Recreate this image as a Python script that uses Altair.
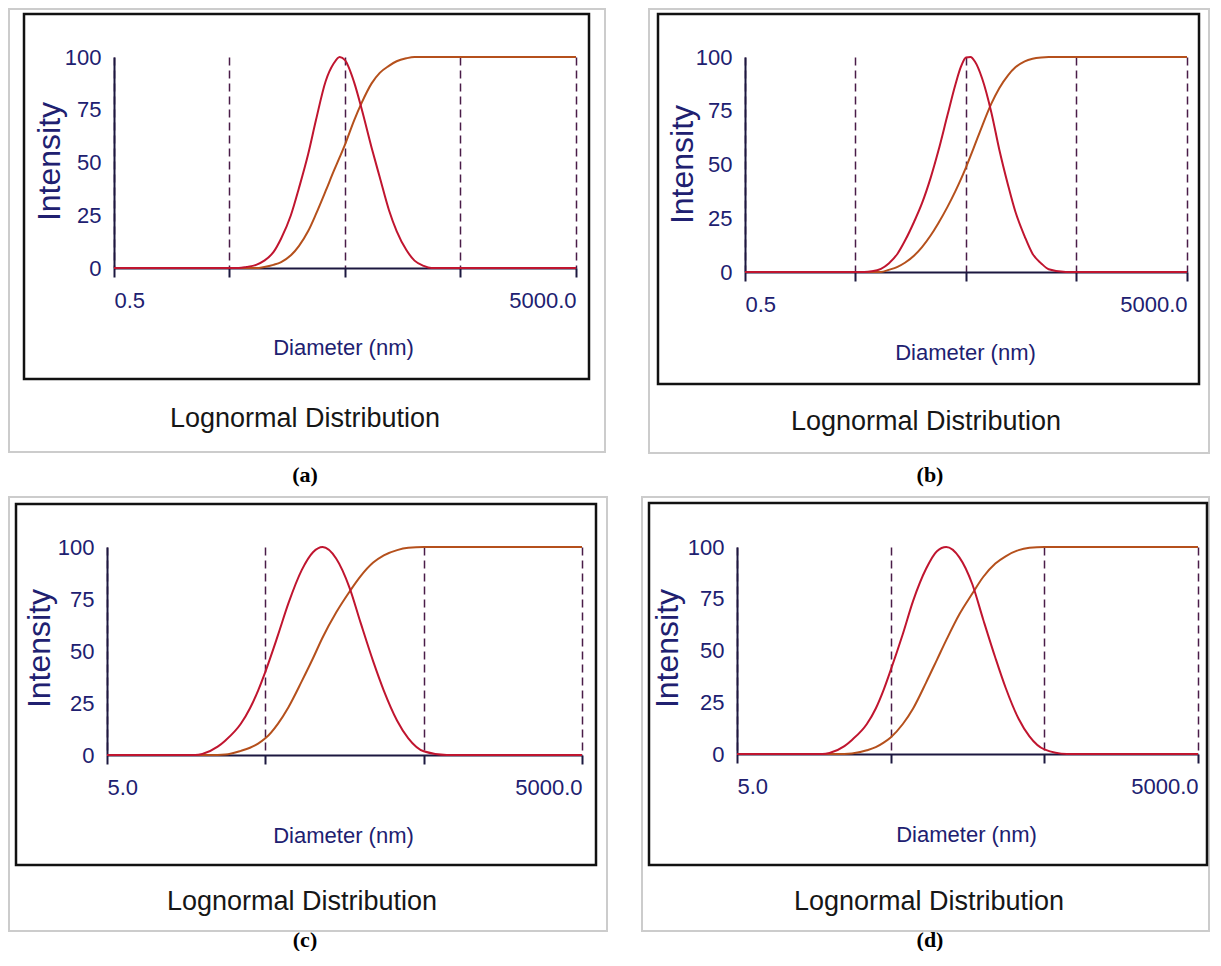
import altair as alt
import pandas as pd

# ---------------- data ----------------
A_diam = [0.5, 5, 6, 7, 8.5, 10, 12, 14, 17, 20, 24, 28, 34, 40, 45, 50, 60, 70, 85, 100,
          120, 140, 170, 200, 240, 280, 400, 5000]
A_dist = [0, 0, 0, 0.5, 1.5, 3.5, 7.5, 14, 25, 38, 54, 70, 88.5, 97, 100, 98.5, 88, 75, 57, 43,
          27.5, 17.5, 8.5, 3.5, 1, 0, 0, 0]
A_cum = [0, 0, 0, 0, 0, 0.5, 1.5, 2.8, 6, 10.5, 17.5, 25.5, 36.5, 46, 52.5, 58.5, 70, 78.5, 87.5, 92.5,
         95.8, 98, 99.4, 100, 100, 100, 100, 100]

B_diam = [0.5, 5, 6, 7, 8.5, 10, 12, 14, 17, 20, 24, 28, 34, 40, 45, 50, 55, 60, 70, 85, 100,
          120, 140, 170, 200, 240, 280, 400, 5000]
B_dist = [0, 0, 0, 0.3, 1.5, 4, 8.5, 14.5, 23.5, 32, 44, 56, 73, 87, 95.5, 99.8, 100, 98, 90, 74, 57,
          40.5, 28, 16.5, 8.5, 4, 1.3, 0, 0]
B_cum = [0, 0, 0, 0, 0, 1, 2.4, 4.3, 7.7, 11.6, 17.1, 22.6, 30.3, 37.5, 43.2, 48.7, 54, 59, 67.9, 78.4, 85.5,
         91.5, 95.2, 98, 99.2, 99.8, 100, 100, 100]

C_diam = [5, 14, 18, 20, 25, 28, 35, 40, 45, 50, 60, 70, 85, 100, 115, 140, 170, 200, 240, 280,
          340, 400, 500, 700, 5000]
C_dist = [0, 0, 0, 0.5, 4, 7, 15, 22.5, 31, 40, 57.5, 73, 89, 97.5, 100, 94.5, 80.5, 63.5, 45, 31,
          16.5, 8, 1.8, 0, 0]
C_cum = [0, 0, 0, 0, 0, 0.2, 2, 3.5, 5.5, 8, 15, 23, 35.5, 46.5, 56.5, 68.5, 78.5, 86, 92.5, 96,
         98.5, 99.6, 100, 100, 100]

D_diam = [5, 14, 18, 20, 25, 28, 35, 40, 45, 50, 60, 70, 85, 100, 115, 140, 170, 200, 240, 280,
          340, 400, 500, 700, 5000]
D_dist = [0, 0, 0, 0.5, 3.8, 6.8, 14.5, 22, 31, 40.5, 58, 74, 89.5, 98, 100, 95, 82, 65, 46.5, 32,
          17, 8.5, 2.2, 0, 0]
D_cum = [0, 0, 0, 0, 0, 0.2, 1.8, 3.3, 5.5, 8, 14.5, 22, 34.5, 45.5, 55, 67.5, 77.5, 85.5, 92, 95.5,
         98.5, 99.6, 100, 100, 100]

AB_ticks = [0.5, 5, 50, 500, 5000]
CD_ticks = [5, 50, 500, 5000]
Y_ticks = [0, 25, 50, 75, 100]

X_TITLE = "Diameter (nm)"
Y_TITLE = "Intensity"
SUBTITLE = "Lognormal Distribution"
LETTERS = ["(a)", "(b)", "(c)", "(d)"]

# ---------------- styles ----------------
LABEL = "#202070"
AXIS = "#1c1840"
BELL = "#c0152f"
CUM = "#b5501c"
GRID = "#4a1c48"
SANS = "Liberation Sans"


def panel(diam, dist, cum, ticks, w, h, lay, letter, shift=0):
    lines = pd.DataFrame({"d": diam, "dist": dist, "cum": cum})
    one = pd.DataFrame({"k": [0]})

    xscale = alt.Scale(type="log", domain=[ticks[0], ticks[-1]], nice=False)
    if shift:
        xscale = alt.Scale(type="log", domain=[ticks[0], ticks[-1]], nice=False,
                           range=[-shift, w - shift])

    x = alt.X(
        "d:Q",
        scale=xscale,
        axis=alt.Axis(
            values=ticks,
            labelExpr="datum.index == 0 || datum.index == 1 ? format(datum.value, '.1f') : ''",
            labelFlush=True,
            labelFont=SANS, labelFontSize=22, labelColor=LABEL, labelPadding=13,
            grid=True, gridDash=[8, 5], gridColor=GRID, gridWidth=1.5, gridOpacity=1,
            tickSize=9, tickWidth=2, tickColor=AXIS,
            domainColor=AXIS, domainWidth=2,
            title=X_TITLE, titleX=lay["xt"][0], titleY=lay["xt"][1],
            titleAlign="center", titleBaseline="middle",
            titleFont=SANS, titleFontSize=22, titleFontWeight="normal", titleColor=LABEL,
        ),
    )

    def y(field):
        return alt.Y(
            f"{field}:Q",
            scale=alt.Scale(domain=[0, 100], nice=False),
            axis=alt.Axis(
                values=Y_ticks, ticks=False, tickSize=0, grid=False, offset=shift,
                domainColor=AXIS, domainWidth=2,
                labelFont=SANS, labelFontSize=22, labelColor=LABEL, labelPadding=13,
                title=Y_TITLE, titleX=lay["yt"][0], titleY=lay["yt"][1], titleAngle=270,
                titleAlign="center", titleBaseline="middle",
                titleFont=SANS, titleFontSize=32, titleFontWeight="normal", titleColor=LABEL,
            ),
        )

    def box(mark, b):
        return alt.Chart(one).mark_rect(**mark).encode(
            x=alt.value(b[0]), x2=alt.value(b[2]), y=alt.value(b[1]), y2=alt.value(b[3])
        )

    layout_box = box({"opacity": 0}, lay["box"])
    outer = box({"filled": False, "color": "#cccccc", "strokeWidth": 2}, lay["outer"])
    inner = box({"filled": False, "color": "#111111", "strokeWidth": 2.5}, lay["inner"])

    base = alt.Chart(lines)
    cum_line = base.mark_line(interpolate="monotone", color=CUM, strokeWidth=2).encode(x=x, y=y("cum"))
    dist_line = base.mark_line(interpolate="monotone", color=BELL, strokeWidth=2).encode(x=x, y=y("dist"))

    sub = alt.Chart(one).mark_text(
        font=SANS, fontSize=27, color="#161616", align="center", baseline="alphabetic"
    ).encode(x=alt.value(lay["lg"][0]), y=alt.value(lay["lg"][1]), text=alt.value(SUBTITLE))

    let = alt.Chart(one).mark_text(
        font="Liberation Serif", fontSize=22, fontWeight="bold", color="#000000",
        align="center", baseline="alphabetic"
    ).encode(x=alt.value(lay["let"][0]), y=alt.value(lay["let"][1]), text=alt.value(letter))

    return alt.layer(layout_box, outer, inner, cum_line, dist_line, sub, let).properties(
        width=w - shift, height=h
    )


LAY_A = dict(box=(-106, -49, 534, 439), outer=(-105, -48, 491, 395), inner=(-90, -43, 475, 322),
             xt=(229, 79), yt=(-65, 104), lg=(191, 370), let=(191, 425))
LAY_B = dict(box=(-97, -49, 466, 439), outer=(-96, -48, 464, 396), inner=(-87, -43, 454, 327),
             xt=(220, 80), yt=(-63, 107), lg=(181, 373), let=(185, 425))
# panel (c) shares its group origin with (a); its plot is drawn 7 px further left
LAY_C = dict(box=(-106, -51, 527, 404), outer=(-105, -50, 493, 384), inner=(-98, -43, 482, 318),
             xt=(229, 80), yt=(-68, 101), lg=(188, 363), let=(191, 400))
LAY_D = dict(box=(-96, -51, 474, 404), outer=(-95, -50, 472, 384), inner=(-88, -44, 470, 318),
             xt=(229, 80), yt=(-70, 101), lg=(192, 363), let=(193, 400))

pa = panel(A_diam, A_dist, A_cum, AB_ticks, 462, 211, LAY_A, LETTERS[0])
pb = panel(B_diam, B_dist, B_cum, AB_ticks, 442, 215, LAY_B, LETTERS[1])
pc = panel(C_diam, C_dist, C_cum, CD_ticks, 475, 208, LAY_C, LETTERS[2], shift=7)
pd_ = panel(D_diam, D_dist, D_cum, CD_ticks, 461, 207, LAY_D, LETTERS[3])

row1 = alt.hconcat(pa, pb, spacing=0).resolve_scale(x="independent", y="independent")
row2 = alt.hconcat(pc, pd_, spacing=0).resolve_scale(x="independent", y="independent")

chart = (
    alt.vconcat(row1, row2, spacing=0)
    .resolve_scale(x="independent", y="independent")
    .properties(padding=0, background="#ffffff")
    .configure_view(strokeWidth=0)
)

chart.save("out.html", embed_options={"renderer": "svg", "actions": False})
